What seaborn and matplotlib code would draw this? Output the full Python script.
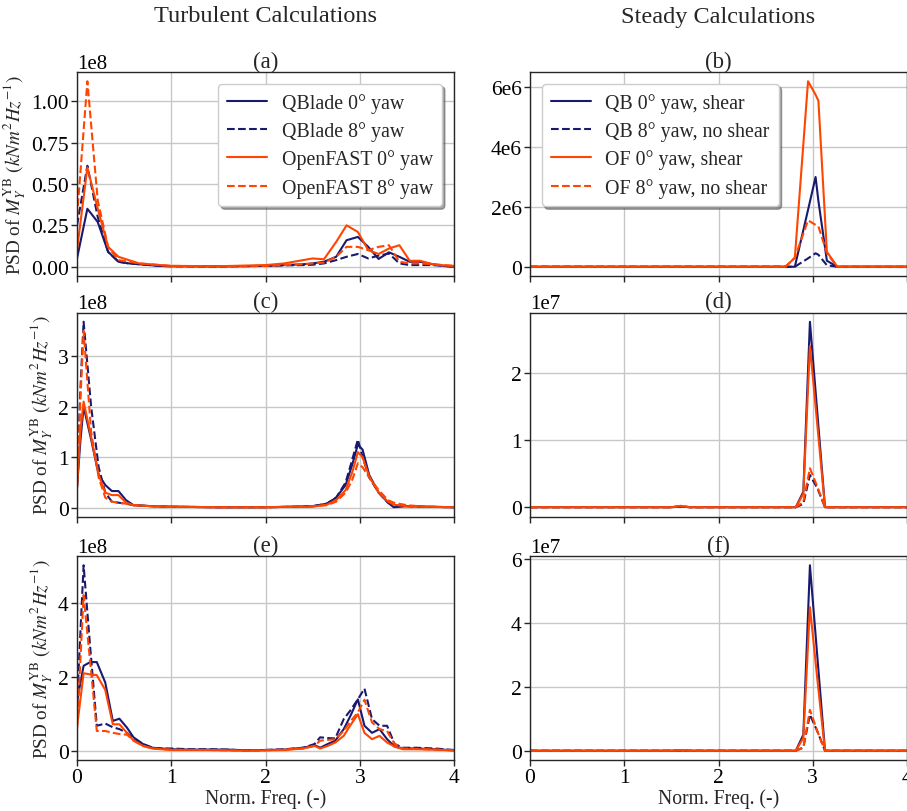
import numpy as np
import matplotlib
matplotlib.use("Agg")
import matplotlib.pyplot as plt
import seaborn as sns
from matplotlib.ticker import FuncFormatter

# ---------------- data ----------------
# Panel (a): turbulent, values in 1e8
freq_a = [0, 0.11, 0.22, 0.33, 0.44, 0.55, 0.66, 0.77, 0.88, 1.0, 1.5, 2.0, 2.2, 2.4,
          2.5, 2.62, 2.75, 2.86, 2.98, 3.09, 3.2, 3.31, 3.42, 3.53, 3.64, 3.77, 3.89, 4.0]
qb0_a = [0.05, 0.35, 0.27, 0.09, 0.03, 0.02, 0.015, 0.01, 0.005, 0.003, 0.002, 0.005, 0.01, 0.015,
         0.02, 0.03, 0.06, 0.16, 0.18, 0.12, 0.047, 0.087, 0.06, 0.03, 0.03, 0.015, 0.005, 0.0]
qb8_a = [0.25, 0.61, 0.30, 0.09, 0.03, 0.02, 0.015, 0.01, 0.005, 0.003, 0.002, 0.005, 0.008, 0.01,
         0.012, 0.02, 0.04, 0.06, 0.077, 0.05, 0.067, 0.08, 0.02, 0.01, 0.01, 0.01, 0.005, 0.0]
of0_a = [0.1, 0.6, 0.35, 0.12, 0.06, 0.04, 0.02, 0.015, 0.01, 0.005, 0.003, 0.01, 0.02, 0.04,
         0.05, 0.045, 0.15, 0.25, 0.21, 0.1, 0.077, 0.11, 0.13, 0.036, 0.036, 0.016, 0.008, 0.005]
of8_a = [0.3, 1.12, 0.4, 0.12, 0.04, 0.03, 0.02, 0.015, 0.01, 0.005, 0.003, 0.005, 0.01, 0.015,
         0.02, 0.025, 0.06, 0.12, 0.12, 0.1, 0.12, 0.13, 0.03, 0.02, 0.02, 0.015, 0.01, 0.005]

# Panel (c): turbulent, values in 1e8
freq_c = [0, 0.035, 0.07, 0.15, 0.23, 0.3, 0.37, 0.44, 0.52, 0.6, 0.7, 0.8, 1.0, 1.5, 2.0,
          2.3, 2.5, 2.65, 2.75, 2.85, 2.92, 2.98, 3.03, 3.1, 3.2, 3.3, 3.36, 3.5, 3.7, 4.0]
qb0_c = [0.4, 1.3, 2.0, 1.35, 0.65, 0.45, 0.33, 0.33, 0.15, 0.05, 0.04, 0.03, 0.02, 0.01, 0.01,
         0.02, 0.03, 0.08, 0.2, 0.45, 0.85, 1.25, 1.15, 0.65, 0.3, 0.1, 0.01, 0.03, 0.02, 0.01]
qb8_c = [0.4, 2.3, 3.68, 2.0, 0.8, 0.3, 0.12, 0.1, 0.08, 0.05, 0.04, 0.03, 0.02, 0.01, 0.01,
         0.02, 0.03, 0.08, 0.2, 0.5, 0.95, 1.35, 1.0, 0.6, 0.3, 0.1, 0.05, 0.03, 0.02, 0.01]
of0_c = [0.4, 1.5, 2.1, 1.4, 0.65, 0.3, 0.25, 0.25, 0.1, 0.05, 0.04, 0.03, 0.02, 0.01, 0.01,
         0.02, 0.02, 0.06, 0.15, 0.35, 0.7, 1.1, 1.0, 0.62, 0.3, 0.12, 0.06, 0.03, 0.02, 0.01]
of8_c = [0.4, 2.1, 3.5, 1.5, 0.6, 0.2, 0.12, 0.1, 0.08, 0.05, 0.04, 0.03, 0.02, 0.01, 0.01,
         0.02, 0.03, 0.05, 0.12, 0.3, 0.55, 0.88, 0.8, 0.6, 0.35, 0.15, 0.1, 0.05, 0.02, 0.01]

# Panel (e): turbulent, values in 1e8
freq_e = [0, 0.07, 0.14, 0.21, 0.3, 0.38, 0.45, 0.53, 0.6, 0.7, 0.8, 0.9, 1.0, 1.2, 1.4, 1.6,
          1.8, 2.0, 2.2, 2.4, 2.52, 2.58, 2.66, 2.74, 2.83, 2.9, 2.98, 3.05, 3.13, 3.21, 3.29,
          3.37, 3.46, 3.6, 3.8, 4.0]
qb0_e = [1.35, 2.3, 2.4, 2.4, 1.85, 0.82, 0.88, 0.64, 0.38, 0.2, 0.1, 0.08, 0.06, 0.05, 0.05, 0.05,
         0.03, 0.04, 0.05, 0.1, 0.17, 0.1, 0.2, 0.29, 0.6, 0.95, 1.4, 0.69, 0.5, 0.6, 0.33,
         0.13, 0.08, 0.08, 0.06, 0.03]
qb8_e = [1.27, 5.0, 2.8, 0.69, 0.75, 0.65, 0.6, 0.5, 0.35, 0.2, 0.1, 0.08, 0.08, 0.06, 0.06, 0.05,
         0.03, 0.04, 0.06, 0.1, 0.2, 0.38, 0.36, 0.35, 0.87, 1.1, 1.4, 1.69, 0.87, 0.69, 0.69,
         0.2, 0.1, 0.1, 0.08, 0.04]
of0_e = [0.65, 2.1, 2.07, 2.05, 1.65, 0.73, 0.73, 0.5, 0.29, 0.15, 0.08, 0.06, 0.04, 0.04, 0.04, 0.03,
         0.02, 0.03, 0.04, 0.08, 0.15, 0.08, 0.15, 0.24, 0.42, 0.7, 1.0, 0.5, 0.33, 0.42, 0.24,
         0.13, 0.06, 0.06, 0.05, 0.03]
of8_e = [0.6, 4.2, 2.4, 0.55, 0.55, 0.5, 0.47, 0.45, 0.3, 0.15, 0.08, 0.06, 0.05, 0.04, 0.04, 0.03,
         0.02, 0.03, 0.05, 0.08, 0.15, 0.29, 0.31, 0.33, 0.55, 0.8, 1.05, 1.39, 0.78, 0.6, 0.55,
         0.2, 0.08, 0.07, 0.05, 0.03]

# Panel (b): steady, values in 1e6
freq_b = [0, 2.71, 2.81, 2.95, 3.03, 3.06, 3.15, 3.26, 4.0]
qb0_b = [0, 0, 0, 1.9, 3.0, 2.2, 0.2, 0, 0]
qb8_b = [0, 0, 0, 0.28, 0.45, 0.4, 0.05, 0, 0]
of0_b = [0, 0, 0.3, 6.2, 5.75, 5.55, 0.5, 0, 0]
of8_b = [0, 0, 0.3, 1.55, 1.4, 1.35, 0.45, 0, 0]

# Panels (d), (f): steady, values in 1e7
freq_df = [0, 1.5, 1.6, 1.7, 2.82, 2.9, 2.97, 3.05, 3.13, 3.2, 4.0]
qb0_d = [0, 0, 0.01, 0, 0, 0.23, 2.76, 1.38, 0, 0, 0]
qb8_d = [0, 0, 0.01, 0, 0, 0.05, 0.48, 0.28, 0, 0, 0]
of0_d = [0, 0, 0.02, 0, 0, 0.2, 2.4, 1.2, 0, 0, 0]
of8_d = [0, 0, 0.02, 0, 0, 0.08, 0.58, 0.3, 0, 0, 0]
qb0_f = [0, 0, 0.01, 0, 0, 0.5, 5.81, 2.9, 0, 0, 0]
qb8_f = [0, 0, 0.01, 0, 0, 0.1, 1.13, 0.6, 0, 0, 0]
of0_f = [0, 0, 0.02, 0, 0, 0.4, 4.5, 2.2, 0, 0, 0]
of8_f = [0, 0, 0.02, 0, 0, 0.1, 1.28, 0.6, 0, 0, 0]

# y tick values (in each panel's scale unit)
yticks_a = [0, 0.25, 0.5, 0.75, 1.0]
yticks_b = [0, 2, 4, 6]
yticks_c = [0, 1, 2, 3]
yticks_d = [0, 1, 2]
yticks_e = [0, 2, 4]
yticks_f = [0, 2, 4, 6]
xticks = [0, 1, 2, 3, 4]

turb_labels = ["QBlade 0° yaw", "QBlade 8° yaw", "OpenFAST 0° yaw", "OpenFAST 8° yaw"]
steady_labels = ["QB 0° yaw, shear", "QB 8° yaw, no shear", "OF 0° yaw, shear", "OF 8° yaw, no shear"]
panel_letters = ["(a)", "(b)", "(c)", "(d)", "(e)", "(f)"]
col_titles = ["Turbulent Calculations", "Steady Calculations"]
ylabel = r"PSD of $M_Y^{\mathrm{YB}}$ $(kNm^2Hz^{-1})$"
xlabel = "Norm. Freq. (-)"

# ---------------- style ----------------
sns.set_theme(style="whitegrid")
sns.set_style("whitegrid", {"axes.edgecolor": "0.15", "grid.color": "0.78",
                            "xtick.bottom": True, "ytick.left": True})
plt.rcParams["font.family"] = ["Liberation Serif", "DejaVu Serif"]
plt.rcParams["mathtext.fontset"] = "stix"
plt.rcParams["axes.linewidth"] = 1.0

NAVY = "#191970"
ORANGE = "#FF4500"
colors = [NAVY, NAVY, ORANGE, ORANGE]
styles = ["-", "--", "-", "--"]

fig = plt.figure(figsize=(9.07, 8.12), dpi=100)
W = 377 / 907
H = 204 / 812
lefts = [77 / 907, 530 / 907]
bottoms = [(812 - 277) / 812, (812 - 517.5) / 812, (812 - 761) / 812]

panels = [
    (freq_a, [qb0_a, qb8_a, of0_a, of8_a], 1e8, yticks_a),
    (freq_b, [qb0_b, qb8_b, of0_b, of8_b], 1e6, yticks_b),
    (freq_c, [qb0_c, qb8_c, of0_c, of8_c], 1e8, yticks_c),
    (freq_df, [qb0_d, qb8_d, of0_d, of8_d], 1e7, yticks_d),
    (freq_e, [qb0_e, qb8_e, of0_e, of8_e], 1e8, yticks_e),
    (freq_df, [qb0_f, qb8_f, of0_f, of8_f], 1e7, yticks_f),
]

TICK_FS = 15.5
LAB_FS = 13.8
axes = []
for i, (fx, series, scale, yt) in enumerate(panels):
    r, c = divmod(i, 2)
    ax = fig.add_axes([lefts[c], bottoms[r], W, H])
    axes.append(ax)
    labels = turb_labels if c == 0 else steady_labels
    for s, lab, col, ls in zip(series, labels, colors, styles):
        sns.lineplot(x=fx, y=np.array(s) * scale, ax=ax, color=col, linestyle=ls,
                     linewidth=1.5, label=lab, legend=False)
    ax.set_xlim(0, 4)
    ax.set_xticks(xticks)
    ax.set_yticks(np.array(yt) * scale)
    ax.tick_params(labelsize=TICK_FS, length=4, width=1, colors="0.15",
                   labelcolor="black", pad=2)
    ax.set_title(panel_letters[i], fontsize=16.5, pad=2)
    ax.yaxis.get_offset_text().set_fontsize(15)
    ax.grid(True, color="0.78", linewidth=1.0)
    ax.set_ylabel(ylabel if c == 0 else "", fontsize=LAB_FS, labelpad=2)
    if r < 2:
        ax.set_xticklabels([])
        ax.set_xlabel("")
    else:
        ax.set_xlabel(xlabel, fontsize=LAB_FS + 0.3, labelpad=1)
    for sp in ax.spines.values():
        sp.set_color("0.15")

axes[1].yaxis.set_major_formatter(FuncFormatter(lambda v, _: "0" if v == 0 else f"{v/1e6:g}e6"))

leg_kw = dict(fontsize=14.3, frameon=True, fancybox=True, shadow=True,
              framealpha=1.0, edgecolor="0.8", handlelength=2.0, handletextpad=0.75,
              borderpad=0.45, labelspacing=0.42, borderaxespad=0.6)
axes[0].legend(loc="upper right", **leg_kw)
axes[1].legend(loc="upper left", **leg_kw)

fig.text(265 / 907, 1 - 17 / 812, col_titles[0], ha="center", va="center", fontsize=17.5)
fig.text(718 / 907, 1 - 17 / 812, col_titles[1], ha="center", va="center", fontsize=17.5)

fig.savefig("out.png", dpi=100)
